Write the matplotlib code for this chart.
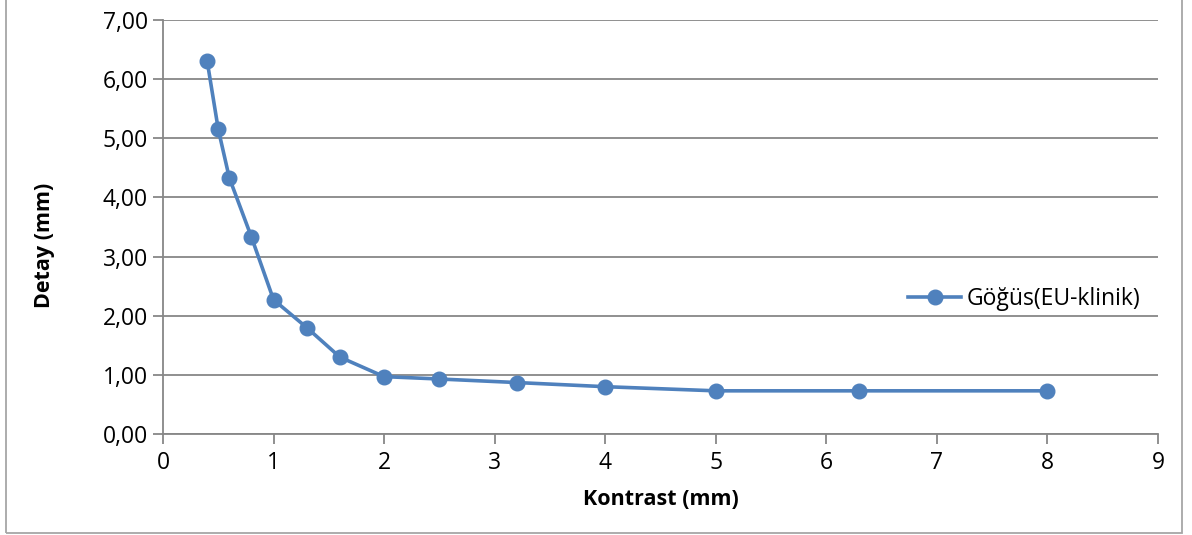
import matplotlib.pyplot as plt
from matplotlib.patches import Rectangle
from matplotlib.ticker import FuncFormatter

kontrast = [0.4, 0.5, 0.6, 0.8, 1.0, 1.3, 1.6, 2.0, 2.5, 3.2, 4.0, 5.0, 6.3, 8.0]
detay = [6.30, 5.15, 4.33, 3.33, 2.27, 1.80, 1.30, 0.97, 0.93, 0.87, 0.80, 0.73, 0.73, 0.73]
seri_adi = 'Göğüs(EU-klinik)'

plt.rcParams['font.family'] = ['Open Sans', 'DejaVu Sans']
blue = '#4F81BD'
gray = '#878787'

fig = plt.figure(figsize=(11.92, 5.35), dpi=100)
ax = fig.add_axes([163 / 1192, 101 / 535, 995 / 1192, 414 / 535])

ax.plot(kontrast, detay, color=blue, lw=2.6, marker='o', ms=10.5, label=seri_adi, zorder=3)

ax.set_xlim(0, 9)
ax.set_ylim(0, 7)
ax.set_xticks(range(0, 10))
ax.set_yticks(range(0, 8))
ax.yaxis.set_major_formatter(FuncFormatter(lambda v, p: f'{v:.2f}'.replace('.', ',')))

ax.grid(axis='y', color=gray, lw=1.3, zorder=0)
for s in ['top', 'right']:
    ax.spines[s].set_visible(False)
for s in ['left', 'bottom']:
    ax.spines[s].set_color(gray)
    ax.spines[s].set_linewidth(1.3)
ax.tick_params(axis='both', colors=gray, labelcolor='black', labelsize=16.5, width=1.3, length=7)
ax.tick_params(axis='y', pad=4)
ax.tick_params(axis='x', pad=5)

ax.set_xlabel('Kontrast (mm)', fontsize=15.5, fontweight='bold', labelpad=10)
ax.set_ylabel('Detay (mm)', fontsize=15.5, fontweight='bold')
ax.yaxis.set_label_coords(-0.109, 0.455)

ax.legend(loc='center left', bbox_to_anchor=(0.74, 0.325), frameon=False, fontsize=16.5,
          handlelength=2.3, handletextpad=0.25, borderaxespad=0)

fig.patches.append(Rectangle((6 / 1192, 2 / 535), 1176 / 1192, 540 / 535, transform=fig.transFigure,
                             fill=False, edgecolor='#A6A6A6', lw=1.3))

fig.savefig('out.png', dpi=100)
